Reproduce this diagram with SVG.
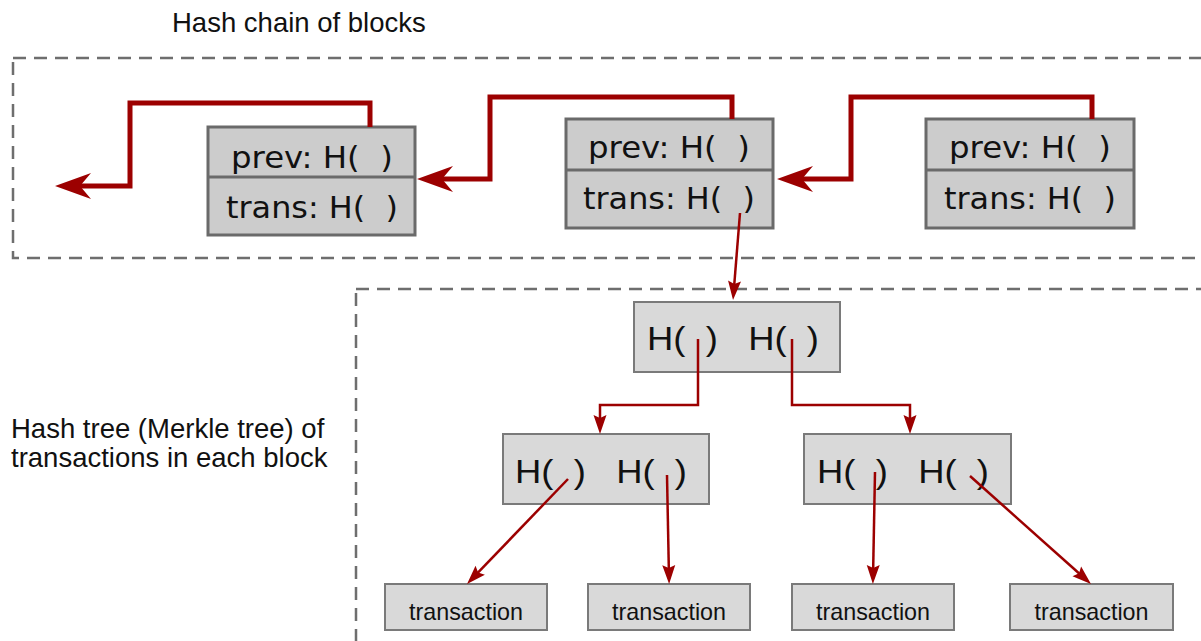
<svg xmlns="http://www.w3.org/2000/svg" width="1201" height="641" viewBox="0 0 1201 641">
<style>
.bg{fill:#ffffff}
.dash{fill:none;stroke:#6e6e6e;stroke-width:2.5;stroke-dasharray:13 8}
.blk{fill:#cccccc;stroke:#6a6a6a;stroke-width:3}
.div{stroke:#6a6a6a;stroke-width:3}
.tb{fill:#d9d9d9;stroke:#7a7a7a;stroke-width:2}
.bt{font-family:"DejaVu Sans",Verdana,sans-serif;font-size:30px;fill:#111}
.ht{font-family:"Liberation Sans",Arial,sans-serif;font-size:34px;fill:#111}
.tx{font-family:"Liberation Sans",Arial,sans-serif;font-size:24px;fill:#111;text-anchor:middle}
.lb{font-family:"Liberation Sans",Arial,sans-serif;font-size:27.5px;fill:#111}
.thick{fill:none;stroke:#9c0000;stroke-width:5;stroke-linejoin:miter;marker-end:url(#bigArrow)}
.thin{fill:none;stroke:#9c0000;stroke-width:2.5;marker-end:url(#smallArrow)}
</style>
<defs>
<marker id="bigArrow" markerUnits="userSpaceOnUse" orient="auto" refX="0" refY="0" markerWidth="60" markerHeight="40" overflow="visible">
<path d="M10,0 L-26,-13 L-15,0 L-26,13 Z" fill="#9c0000"/>
</marker>
<marker id="smallArrow" markerUnits="userSpaceOnUse" orient="auto" refX="0" refY="0" markerWidth="30" markerHeight="20" overflow="visible">
<path d="M6,0 L-13,-6.5 L-10,0 L-13,6.5 Z" fill="#9c0000"/>
</marker>
</defs>
<rect class="bg" x="0" y="0" width="1201" height="641"/>

<g id="labels">
<text class="lb" x="172" y="32">Hash chain of blocks</text>
<text class="lb" x="11" y="438">Hash tree (Merkle tree) of</text>
<text class="lb" x="11" y="467">transactions in each block</text>
</g>

<g id="frames">
<rect class="dash" x="13" y="58" width="1205" height="200"/>
<rect class="dash" x="356" y="289" width="900" height="400"/>
</g>

<g id="block1">
<rect class="blk" x="208" y="127" width="207" height="108"/>
<line class="div" x1="208" y1="177" x2="415" y2="177"/>
<text class="bt" x="231" y="168" textLength="162" lengthAdjust="spacingAndGlyphs" xml:space="preserve">prev: H(  )</text>
<text class="bt" x="226" y="218" textLength="172" lengthAdjust="spacingAndGlyphs" xml:space="preserve">trans: H(  )</text>
</g>
<g id="block2">
<rect class="blk" x="566" y="119" width="207" height="109"/>
<line class="div" x1="566" y1="170" x2="773" y2="170"/>
<text class="bt" x="588" y="158" textLength="162" lengthAdjust="spacingAndGlyphs" xml:space="preserve">prev: H(  )</text>
<text class="bt" x="583" y="209" textLength="172" lengthAdjust="spacingAndGlyphs" xml:space="preserve">trans: H(  )</text>
</g>
<g id="block3">
<rect class="blk" x="926" y="119" width="208" height="109"/>
<line class="div" x1="926" y1="170" x2="1134" y2="170"/>
<text class="bt" x="949" y="158" textLength="162" lengthAdjust="spacingAndGlyphs" xml:space="preserve">prev: H(  )</text>
<text class="bt" x="944" y="209" textLength="172" lengthAdjust="spacingAndGlyphs" xml:space="preserve">trans: H(  )</text>
</g>

<g id="root">
<rect class="tb" x="634" y="302" width="206" height="70"/>
<text class="ht" x="647" y="350" textLength="172" lengthAdjust="spacingAndGlyphs" xml:space="preserve">H(  )   H(  )</text>
</g>
<g id="node-left">
<rect class="tb" x="503" y="434" width="206" height="70"/>
<text class="ht" x="515" y="483" textLength="172" lengthAdjust="spacingAndGlyphs" xml:space="preserve">H(  )   H(  )</text>
</g>
<g id="node-right">
<rect class="tb" x="804" y="434" width="207" height="70"/>
<text class="ht" x="817" y="483" textLength="172" lengthAdjust="spacingAndGlyphs" xml:space="preserve">H(  )   H(  )</text>
</g>

<g id="tx1">
<rect class="tb" x="385" y="584" width="162" height="46"/>
<text class="tx" x="466" y="620" textLength="114" lengthAdjust="spacingAndGlyphs">transaction</text>
</g>
<g id="tx2">
<rect class="tb" x="588" y="584" width="162" height="46"/>
<text class="tx" x="669" y="620" textLength="114" lengthAdjust="spacingAndGlyphs">transaction</text>
</g>
<g id="tx3">
<rect class="tb" x="792" y="584" width="162" height="46"/>
<text class="tx" x="873" y="620" textLength="114" lengthAdjust="spacingAndGlyphs">transaction</text>
</g>
<g id="tx4">
<rect class="tb" x="1010" y="584" width="163" height="46"/>
<text class="tx" x="1091.5" y="620" textLength="114" lengthAdjust="spacingAndGlyphs">transaction</text>
</g>

<g id="connectors">
<path class="thick" d="M370,127 V103 H130 V186 H65"/>
<path class="thick" d="M732,119 V97 H490 V179 H427"/>
<path class="thick" d="M1092,119 V97 H851 V179 H787"/>
<path class="thin" d="M740,213 L733.5,294"/>
<path class="thin" d="M698,339 V405 H600 V428"/>
<path class="thin" d="M792,339 V405 H910 V428"/>
<path class="thin" d="M568,479 L471.2,579.7"/>
<path class="thin" d="M667,475 L669,578"/>
<path class="thin" d="M875,472 L873,578"/>
<path class="thin" d="M970,476 L1086.5,580"/>
</g>
</svg>
